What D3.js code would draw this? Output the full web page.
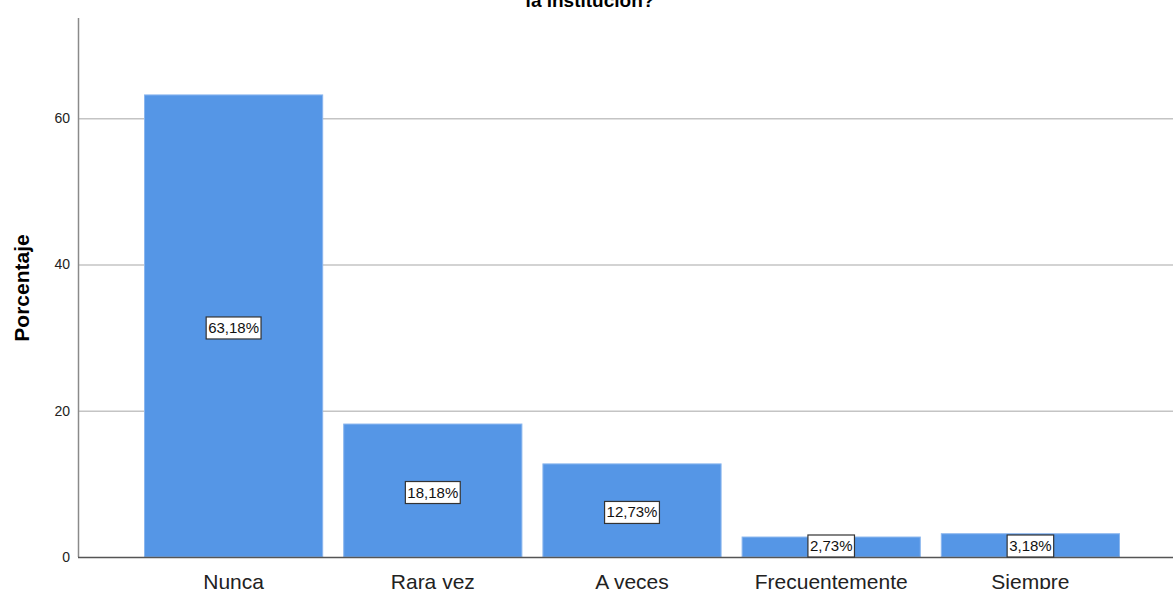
<!DOCTYPE html>
<html>
<head>
    <meta charset="utf-8">
    <script src="https://cdn.jsdelivr.net/npm/d3@7"></script>
    <style>
        body { margin: 0; background: #fff; }
        text { font-family: "Liberation Sans", Arial, sans-serif; }
    </style>
</head>
<body>
    <svg width="1173" height="589" id="mainsvg"></svg>
    <script>
        const categories = ['Nunca', 'Rara vez', 'A veces', 'Frecuentemente', 'Siempre'];
        const values = [63.18, 18.18, 12.73, 2.73, 3.18];
        const yTicks = [0, 20, 40, 60];

        const svg = d3.select('svg');
        const margin = { left: 78, top: 18, bottom: 557 };

        const y = d3.scaleLinear().domain([0, 73.7]).range([557, 18]);
        const x = d3.scaleBand().domain(categories).range([134.5, 1129.5]).paddingInner(21 / 199).paddingOuter(10 / 199);

        // title (cut off at top)
        svg.append('text')
            .attr('x', 590).attr('y', 7)
            .attr('text-anchor', 'middle')
            .attr('font-size', 19).attr('font-weight', 'bold')
            .text('la institución?');

        // grid
        svg.selectAll('.grid').data(yTicks.filter(d => d > 0)).join('line')
            .attr('class', 'grid')
            .attr('x1', margin.left).attr('x2', 1173)
            .attr('y1', d => y(d) + 0.5).attr('y2', d => y(d) + 0.5)
            .attr('stroke', '#c4c4c4').attr('stroke-width', 1.5);

        // bars
        svg.selectAll('.bar').data(values).join('rect')
            .attr('class', 'bar')
            .attr('x', (d, i) => x(categories[i]))
            .attr('width', x.bandwidth())
            .attr('y', d => y(d))
            .attr('height', d => y(0) - y(d))
            .attr('fill', '#5596e6')
            .attr('stroke', '#8ab6ee').attr('stroke-width', 1);

        // axes
        svg.append('line')
            .attr('x1', margin.left + 0.5).attr('x2', margin.left + 0.5)
            .attr('y1', 18).attr('y2', 557)
            .attr('stroke', '#8a8a8a').attr('stroke-width', 1.5);
        svg.append('line')
            .attr('x1', margin.left).attr('x2', 1173)
            .attr('y1', 557.5).attr('y2', 557.5)
            .attr('stroke', '#555').attr('stroke-width', 1.3);

        svg.selectAll('.ytick').data(yTicks).join('text')
            .attr('class', 'ytick')
            .attr('x', 70).attr('y', d => y(d) + 5)
            .attr('text-anchor', 'end')
            .attr('font-size', 14).attr('fill', '#222')
            .text(d => d);

        svg.selectAll('.xtick').data(categories).join('text')
            .attr('class', 'xtick')
            .attr('x', d => x(d) + x.bandwidth() / 2).attr('y', 589)
            .attr('text-anchor', 'middle')
            .attr('font-size', 21).attr('fill', '#222')
            .text(d => d);

        svg.append('text')
            .attr('transform', 'translate(29,288) rotate(-90)')
            .attr('text-anchor', 'middle')
            .attr('font-size', 21).attr('font-weight', 'bold')
            .text('Porcentaje');

        // value labels
        const fmt = v => v.toFixed(2).replace('.', ',') + '%';
        const lbl = svg.selectAll('.lbl').data(values).join('g')
            .attr('class', 'lbl')
            .attr('transform', (d, i) => {
                const cy = Math.min(y(d / 2) + 2, 546);
                return `translate(${x(categories[i]) + x.bandwidth() / 2},${cy})`;
            });
        lbl.append('text')
            .attr('text-anchor', 'middle').attr('y', 5)
            .attr('font-size', 15).attr('fill', '#111')
            .text(fmt);
        lbl.each(function () {
            const g = d3.select(this);
            const b = g.select('text').node().getBBox();
            g.insert('rect', 'text')
                .attr('x', b.x - 2).attr('y', -11)
                .attr('width', b.width + 4).attr('height', 22)
                .attr('fill', '#fff').attr('stroke', '#333').attr('stroke-width', 1.2);
        });
    </script>
</body>
</html>
